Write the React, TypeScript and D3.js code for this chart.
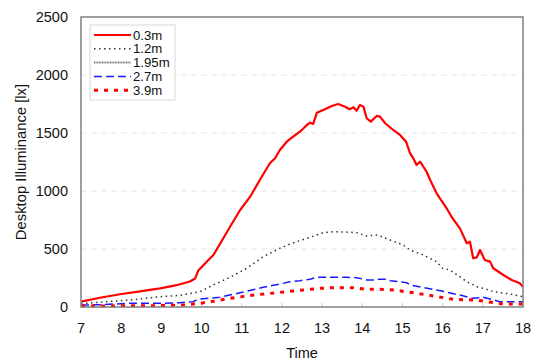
import React from "react";
import * as d3 from "d3";

const seriesNames = ["0.3m", "1.2m", "1.95m", "2.7m", "3.9m"];

const t03 = [7.0, 7.47, 7.97, 8.47, 8.97, 9.38, 9.71, 9.84, 9.92, 10.17, 10.3, 10.71, 10.96, 11.21, 11.45, 11.7, 11.83, 11.95, 12.12, 12.28, 12.45, 12.62, 12.7, 12.78, 12.87, 13.03, 13.24, 13.4, 13.57, 13.69, 13.78, 13.86, 13.94, 14.03, 14.11, 14.21, 14.36, 14.44, 14.57, 14.77, 14.94, 15.09, 15.19, 15.27, 15.35, 15.44, 15.6, 15.69, 15.85, 16.1, 16.22, 16.43, 16.6, 16.68, 16.76, 16.85, 16.93, 17.05, 17.18, 17.26, 17.51, 17.72, 17.92, 18.0];
const v03 = [46, 80, 110, 135, 160, 188, 220, 245, 315, 405, 450, 692, 836, 951, 1095, 1239, 1282, 1353, 1425, 1468, 1511, 1569, 1589, 1578, 1675, 1698, 1733, 1750, 1727, 1704, 1722, 1692, 1741, 1727, 1627, 1598, 1647, 1641, 1584, 1526, 1483, 1425, 1325, 1282, 1224, 1253, 1166, 1095, 980, 851, 778, 678, 549, 563, 420, 428, 491, 405, 391, 334, 276, 233, 204, 175];

const t12 = [7.0, 7.14, 7.64, 8.22, 8.97, 9.46, 9.96, 10.29, 10.71, 11.12, 11.54, 11.95, 12.2, 12.37, 12.7, 13.03, 13.28, 13.53, 13.86, 14.11, 14.36, 14.44, 14.69, 15.02, 15.19, 15.52, 15.85, 16.0, 16.18, 16.43, 16.6, 16.85, 17.1, 17.26, 17.68, 18.0];
const v12 = [28, 32, 46, 60, 89, 100, 132, 190, 256, 333, 434, 506, 543, 563, 601, 641, 649, 647, 641, 612, 621, 612, 578, 534, 491, 448, 391, 333, 319, 261, 218, 175, 152, 132, 112, 89];

const t195: number[] = [];
const v195: number[] = [];

const t27 = [7.0, 7.5, 8.22, 9.0, 9.46, 9.79, 9.91, 10.17, 10.46, 10.96, 11.54, 11.95, 12.2, 12.45, 12.7, 12.87, 13.03, 13.61, 13.86, 14.11, 14.27, 14.36, 14.61, 14.69, 15.1, 15.19, 15.85, 16.43, 16.76, 17.01, 17.43, 18.0];
const v27 = [17, 20, 32, 32, 37, 46, 66, 75, 84, 123, 170, 198, 218, 227, 239, 256, 256, 256, 253, 233, 233, 239, 239, 227, 210, 190, 147, 103, 75, 84, 46, 46];

const t39 = [7.0, 7.5, 8.0, 8.5, 9.0, 9.55, 9.96, 10.3, 10.71, 11.29, 11.87, 12.37, 12.95, 13.3, 13.78, 14.11, 14.44, 14.77, 15.27, 15.77, 16.27, 16.85, 17.1, 17.51, 18.0];
const v39 = [10, 8, 10, 10, 12, 17, 32, 50, 75, 103, 123, 141, 161, 167, 167, 152, 152, 147, 123, 95, 66, 60, 46, 26, 26];

const xTicks = [7, 8, 9, 10, 11, 12, 13, 14, 15, 16, 17, 18];
const yTicks = [0, 500, 1000, 1500, 2000, 2500];

const styles = [
  { stroke: "#ff0000", width: 2.2, dash: "" },
  { stroke: "#333333", width: 1.5, dash: "1.5,3.5" },
  { stroke: "#777777", width: 2, dash: "1,0.6" },
  { stroke: "#1a1aff", width: 1.5, dash: "8,4" },
  { stroke: "#ff0000", width: 3, dash: "4,6" },
];

const W = 536;
const H = 361;
const L = 81, R = 523, T = 17, B = 307;

export default function App() {
  const x = d3.scaleLinear().domain([7, 18]).range([L, R]);
  const y = d3.scaleLinear().domain([0, 2500]).range([B, T]);
  const line = d3.line<[number, number]>().x((d) => x(d[0])).y((d) => y(d[1]));
  const series: [number, number][][] = [
    t03.map((t, i) => [t, v03[i]]),
    t12.map((t, i) => [t, v12[i]]),
    t195.map((t, i) => [t, v195[i]]),
    t27.map((t, i) => [t, v27[i]]),
    t39.map((t, i) => [t, v39[i]]),
  ];
  const font = "'Liberation Sans', Arial, sans-serif";
  return (
    <svg width={W} height={H} style={{ position: "absolute", left: 0, top: 0, background: "#fff" }} fontFamily={font}>
      {yTicks.slice(1, -1).map((v) => (
        <line key={v} x1={L} x2={R} y1={y(v)} y2={y(v)} stroke="#e4e4e4" strokeWidth={1} strokeDasharray="6,4" />
      ))}
      {xTicks.slice(1, -1).map((v) => (
        <line key={v} x1={x(v)} x2={x(v)} y1={B} y2={B - 4} stroke="#cccccc" strokeWidth={1} />
      ))}
      {series.map((s, i) =>
        s.length ? (
          <path key={i} d={line(s) || ""} fill="none" stroke={styles[i].stroke} strokeWidth={styles[i].width} strokeDasharray={styles[i].dash || undefined} strokeLinejoin="round" />
        ) : null
      )}
      <rect x={L} y={T} width={R - L} height={B - T} fill="none" stroke="#808080" strokeWidth={1.5} />
      {yTicks.map((v) => (
        <text key={v} x={68} y={y(v)} dy="0.35em" textAnchor="end" fontSize={14.5} fill="#111">{v}</text>
      ))}
      {xTicks.map((v) => (
        <text key={v} x={x(v)} y={B + 26} textAnchor="middle" fontSize={14.5} fill="#111">{v}</text>
      ))}
      <text x={(L + R) / 2} y={358} textAnchor="middle" fontSize={14.5} fill="#111">Time</text>
      <text transform={`translate(26,162) rotate(-90)`} textAnchor="middle" fontSize={14.8} fill="#111">Desktop Illuminance  [lx]</text>
      <rect x={90} y={25} width={85} height={75} fill="#fff" stroke="#d8d8d8" strokeWidth={1} />
      {seriesNames.map((n, i) => {
        const yy = 35 + i * 13.8;
        return (
          <g key={n}>
            <line x1={94} x2={131} y1={yy} y2={yy} stroke={styles[i].stroke} strokeWidth={styles[i].width} strokeDasharray={styles[i].dash || undefined} />
            <text x={133} y={yy} dy="0.35em" fontSize={13.2} fill="#111">{n}</text>
          </g>
        );
      })}
    </svg>
  );
}
